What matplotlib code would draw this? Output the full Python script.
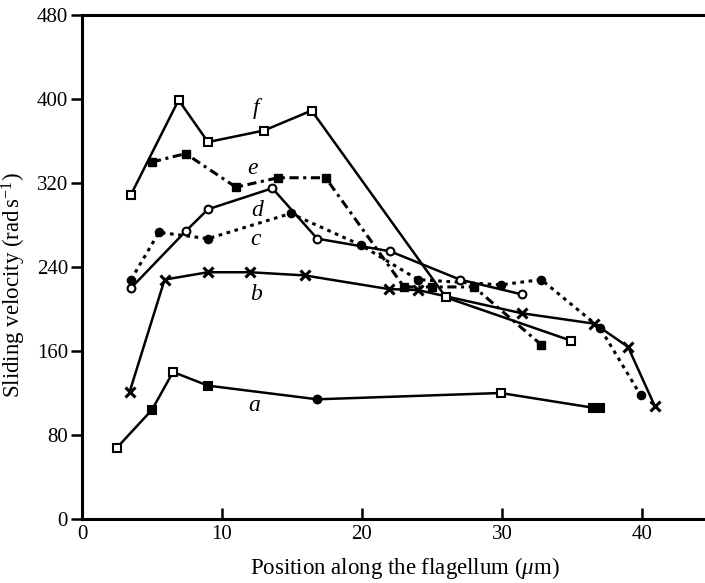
import matplotlib
matplotlib.use("Agg")
import matplotlib.pyplot as plt

# Data
a_x = [2.5, 5.0, 6.5, 9.0, 16.8, 29.9, 36.5, 37.0]
a_y = [68, 104, 140, 127, 114, 120, 106, 106]
a_fill = ['none', 'k', 'none', 'k', 'k', 'none', 'k', 'k']
a_mk = ['s', 's', 's', 's', 'o', 's', 's', 's']

b_x = [3.4, 5.9, 9.0, 12.0, 15.9, 21.9, 24.0, 31.4, 36.6, 39.0, 40.9]
b_y = [121, 228, 235, 235, 232, 219, 218, 196, 186, 164, 108]

c_x = [3.5, 5.5, 9.0, 14.9, 19.9, 24.0, 29.9, 32.8, 37.0, 39.9]
c_y = [228, 273, 267, 291, 261, 228, 223, 228, 182, 118]

d_x = [3.5, 7.4, 9.0, 13.6, 16.8, 22.0, 27.0, 31.4]
d_y = [220, 274, 295, 315, 267, 255, 228, 214]

e_x = [5.0, 7.4, 11.0, 14.0, 17.4, 23.0, 25.0, 28.0, 32.8]
e_y = [340, 348, 316, 325, 325, 221, 221, 221, 166]

f_x = [3.5, 6.9, 9.0, 13.0, 16.4, 26.0, 34.9]
f_y = [309, 399, 359, 370, 389, 211, 170]

labels = ['a', 'b', 'c', 'd', 'e', 'f']
label_x = [12.3, 12.4, 12.4, 12.5, 12.2, 12.4]
label_y = [108, 214, 266, 294, 334, 391]

x_ticks = [0, 10, 20, 30, 40]
y_ticks = [0, 80, 160, 240, 320, 400, 480]

plt.rcParams['font.family'] = ['Liberation Serif', 'DejaVu Serif']
plt.rcParams['mathtext.fontset'] = 'custom'
plt.rcParams['mathtext.rm'] = 'Liberation Serif'
plt.rcParams['mathtext.it'] = 'Liberation Serif:italic'

fig = plt.figure(figsize=(7.05, 5.83), dpi=100)
ax = fig.add_axes([82/705, 1 - 519/583, 1 - 82/705, (519 - 15)/583])

lw = 1.8
ms = 5.6
# a
ax.plot(a_x, a_y, '-', color='k', lw=lw, zorder=2)
for xi, yi, fc, mk in zip(a_x, a_y, a_fill, a_mk):
    ax.plot([xi], [yi], marker=mk, ms=ms, mfc=('white' if fc == 'none' else 'k'),
            mec='k', mew=1.5, ls='none', zorder=3)
# b
ax.plot(b_x, b_y, '-', color='k', lw=lw, marker='x', ms=6.5, mew=2.2, zorder=3)
# c
ax.plot(c_x, c_y, ls=(0, (1.2, 1.5)), color='k', lw=2.2, marker='o', ms=ms + 0.3,
        mfc='k', mec='k', zorder=3)
# d
ax.plot(d_x, d_y, '-', color='k', lw=lw, marker='o', ms=ms, mfc='white',
        mec='k', mew=1.5, zorder=3)
# e
ax.plot(e_x, e_y, ls=(0, (3, 1.5, 1, 1.5)), color='k', lw=2.2, marker='s', ms=ms,
        mfc='k', mec='k', zorder=3)
# f
ax.plot(f_x, f_y, '-', color='k', lw=lw, marker='s', ms=ms + 0.3, mfc='white',
        mec='k', mew=1.5, zorder=3)

for lab, lx, ly in zip(labels, label_x, label_y):
    ax.text(lx, ly, lab, fontsize=17, style='italic', ha='center', va='center')

ax.set_xlim(0, 44.5)
ax.set_ylim(0, 480)
ax.set_xticks(x_ticks)
ax.set_yticks(y_ticks)
ax.tick_params(axis='x', direction='in', length=8, width=1.8, labelsize=15, pad=4)
ax.tick_params(axis='y', direction='out', length=8, width=1.8, labelsize=15, pad=2)
for s in ['left', 'bottom', 'top']:
    ax.spines[s].set_linewidth(2.2)
ax.spines['right'].set_visible(False)

ax.set_xlabel(r'Position along the flagellum ($\mathit{\mu}$m)', fontsize=16.5)
ax.set_ylabel(r'Sliding velocity (rad$\,$s$^{-1}$)', fontsize=16.5)
ax.xaxis.set_label_coords(0.518, -0.072)
ax.yaxis.set_label_coords(-0.086, 0.464)

fig.savefig('out.png', dpi=100)
